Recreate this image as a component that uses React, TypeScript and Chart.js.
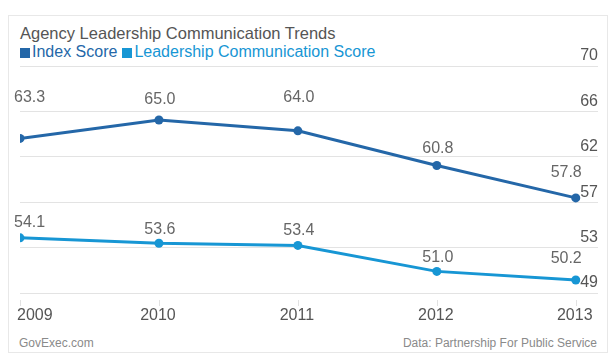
import React, { useEffect, useRef } from "react";
import { Chart, registerables } from "chart.js";

Chart.register(...registerables);

const years = [2009, 2010, 2011, 2012, 2013];
const indexScore = [63.3, 65.0, 64.0, 60.8, 57.8];
const leadershipScore = [54.1, 53.6, 53.4, 51.0, 50.2];
const yTickValues = [49, 53.2, 57.4, 61.6, 65.8, 70];
const yTickLabels = ["49", "53", "57", "62", "66", "70"];
const seriesNames = ["Index Score", "Leadership Communication Score"];
const seriesColors = ["#2467a8", "#1796d4"];
const labelLift = [
  [41, 20, 33, 17, 25],
  [15, 14, 15, 14, 21],
];

const FONT = '"Liberation Sans", Arial, Helvetica, sans-serif';

const overlay = {
  id: "overlay",
  afterDatasetsDraw(chart: any) {
    const ctx = chart.ctx;
    const xs = chart.scales.x;
    const area = chart.chartArea;
    ctx.save();
    ctx.textBaseline = "middle";
    ctx.font = `16px ${FONT}`;
    years.forEach((yr, i) => {
      const px = xs.getPixelForValue(yr);
      ctx.strokeStyle = "#e2e2e2";
      ctx.lineWidth = 1;
      ctx.beginPath();
      ctx.moveTo(Math.round(px) + 0.5, area.bottom + 7);
      ctx.lineTo(Math.round(px) + 0.5, area.bottom + 13);
      ctx.stroke();
      ctx.fillStyle = "#555";
      ctx.textAlign = i === 0 ? "left" : "center";
      ctx.fillText(String(yr), i === 0 ? px - 3 : px - 1, area.bottom + 23);
    });
    ctx.fillStyle = "#666";
    chart.data.datasets.forEach((ds: any, d: number) => {
      const meta = chart.getDatasetMeta(d);
      const n = meta.data.length;
      meta.data.forEach((pt: any, i: number) => {
        ctx.textAlign = i === 0 ? "left" : i === n - 1 ? "right" : "center";
        const dx = i === 0 ? -6 : i === n - 1 ? 6 : 1;
        ctx.fillText(ds.data[i].y.toFixed(1), pt.x + dx, pt.y - labelLift[d][i]);
      });
    });
    ctx.restore();
  },
};

export default function App() {
  const ref = useRef<HTMLCanvasElement>(null);

  useEffect(() => {
    if (!ref.current) return;
    const series = [indexScore, leadershipScore];
    const chart = new Chart(ref.current, {
      type: "line",
      data: {
        datasets: series.map((vals, s) => ({
          label: seriesNames[s],
          data: vals.map((v, i) => ({ x: years[i], y: v })),
          borderColor: seriesColors[s],
          backgroundColor: seriesColors[s],
          borderWidth: 3,
          pointRadius: 4.5,
          pointBorderWidth: 0,
          tension: 0,
        })),
      },
      options: {
        responsive: false,
        animation: false,
        layout: { padding: { left: 11, right: 9, top: 21, bottom: 42 } },
        plugins: { legend: { display: false }, tooltip: { enabled: false } },
        scales: {
          x: { type: "linear", display: false, min: 2009, max: 2013.16 },
          y: {
            position: "right",
            min: 49,
            max: 70,
            afterBuildTicks: (s: any) => {
              s.ticks = yTickValues.map((v) => ({ value: v }));
            },
            grid: { color: "#e3e3e3", lineWidth: 1, drawTicks: false },
            border: { display: false },
            ticks: {
              mirror: true,
              padding: 0,
              labelOffset: -10,
              color: "#555",
              font: { size: 16, family: FONT },
              callback: (_v: any, i: number) => yTickLabels[i],
            },
          },
        },
      },
      plugins: [overlay],
    } as any);
    return () => chart.destroy();
  }, []);

  const legendItem = (name: string, color: string) => (
    <span style={{ color, marginRight: 5, whiteSpace: "nowrap" }}>
      <span
        style={{
          display: "inline-block",
          width: 10,
          height: 10,
          background: color,
          marginRight: 2,
          verticalAlign: "-1px",
        }}
      />
      {name}
    </span>
  );

  return (
    <div style={{ position: "absolute", left: 0, top: 0, width: 615, height: 360, fontFamily: FONT }}>
      <div
        style={{
          position: "absolute",
          left: 8,
          top: 15,
          width: 600,
          height: 338,
          border: "1px solid #e8e8e8",
          boxSizing: "border-box",
        }}
      />
      <div style={{ position: "absolute", left: 20, top: 24, fontSize: 16.5, lineHeight: "18px", color: "#555", whiteSpace: "nowrap" }}>
        Agency Leadership Communication Trends
      </div>
      <div style={{ position: "absolute", left: 20, top: 43, fontSize: 16, lineHeight: "18px", whiteSpace: "nowrap" }}>
        {legendItem(seriesNames[0], seriesColors[0])}
        {legendItem(seriesNames[1], seriesColors[1])}
      </div>
      <canvas
        ref={ref}
        width={598}
        height={290}
        style={{ position: "absolute", left: 9, top: 45, width: 598, height: 290 }}
      />
      <div style={{ position: "absolute", left: 19, top: 336, fontSize: 12, lineHeight: "14px", color: "#8a8a8a" }}>
        GovExec.com
      </div>
      <div style={{ position: "absolute", right: 18, top: 336, fontSize: 12, lineHeight: "14px", color: "#8a8a8a" }}>
        Data: Partnership For Public Service
      </div>
    </div>
  );
}
